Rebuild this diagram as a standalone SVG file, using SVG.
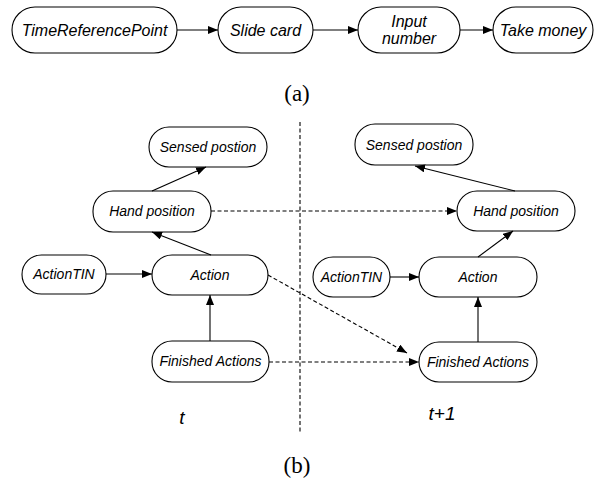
<svg xmlns="http://www.w3.org/2000/svg" width="600" height="479" viewBox="0 0 600 479">
  <style>
    .node { fill: #ffffff; stroke: #000000; stroke-width: 1.1; }
    .lbl { font-family: "Liberation Sans", Arial, sans-serif; font-style: italic; font-size: 14px; text-anchor: middle; fill: #000000; }
    .lbl16 { font-size: 16px; }
    .edge { fill: none; stroke: #000000; stroke-width: 1.1; }
    .dash { stroke-dasharray: 4 2.5; }
    .cap { font-family: "Liberation Serif", "Times New Roman", serif; font-size: 23px; text-anchor: middle; fill: #000000; }
    .time { font-family: "Liberation Sans", Arial, sans-serif; font-style: italic; font-size: 19px; text-anchor: middle; fill: #000000; }
  </style>
  <defs>
    <marker id="arrow" markerWidth="11" markerHeight="9" refX="10" refY="4" orient="auto" markerUnits="userSpaceOnUse">
      <path d="M0,0 L10,4 L0,8 z" fill="#000000"/>
    </marker>
  </defs>
  <rect width="600" height="479" fill="#ffffff"/>

  <!-- (a) sequence of actions -->
  <g id="a-time-reference-point">
    <rect class="node" x="12" y="7" width="165" height="46" rx="23" ry="23"/>
    <text class="lbl lbl16" x="94.5" y="36">TimeReferencePoint</text>
  </g>
  <g id="a-slide-card">
    <rect class="node" x="218" y="7" width="95" height="46" rx="23" ry="23"/>
    <text class="lbl lbl16" x="265.5" y="36">Slide card</text>
  </g>
  <g id="a-input-number">
    <rect class="node" x="358" y="7" width="102" height="46" rx="23" ry="23"/>
    <text class="lbl lbl16" x="409" y="27">Input</text>
    <text class="lbl lbl16" x="409" y="44">number</text>
  </g>
  <g id="a-take-money">
    <rect class="node" x="493" y="7" width="100" height="46" rx="23" ry="23"/>
    <text class="lbl lbl16" x="543" y="36">Take money</text>
  </g>
  <text class="cap" x="297" y="101">(a)</text>

  <!-- (b) two time slices -->
  <g id="b-sensed-t">
    <rect class="node" x="149" y="127" width="118" height="40" rx="20" ry="20"/>
    <text class="lbl" x="208" y="152">Sensed postion</text>
  </g>
  <g id="b-hand-t">
    <rect class="node" x="93" y="191" width="118" height="41" rx="20" ry="20"/>
    <text class="lbl" x="152" y="216">Hand position</text>
  </g>
  <g id="b-actiontin-t">
    <rect class="node" x="22" y="255" width="84" height="39" rx="19.5" ry="19.5"/>
    <text class="lbl" x="64" y="279">ActionTIN</text>
  </g>
  <g id="b-action-t">
    <rect class="node" x="152" y="255" width="116" height="40" rx="20" ry="20"/>
    <text class="lbl" x="210" y="280">Action</text>
  </g>
  <g id="b-finished-t">
    <rect class="node" x="152" y="341" width="117" height="41" rx="20" ry="20"/>
    <text class="lbl" x="210.5" y="366">Finished Actions</text>
  </g>

  <g id="b-sensed-t1">
    <rect class="node" x="355" y="124" width="118" height="41" rx="20" ry="20"/>
    <text class="lbl" x="414" y="149.5">Sensed postion</text>
  </g>
  <g id="b-hand-t1">
    <rect class="node" x="457" y="191" width="118" height="40" rx="20" ry="20"/>
    <text class="lbl" x="516" y="216">Hand position</text>
  </g>
  <g id="b-actiontin-t1">
    <rect class="node" x="313" y="257" width="77" height="40" rx="20" ry="20"/>
    <text class="lbl" x="351.5" y="282">ActionTIN</text>
  </g>
  <g id="b-action-t1">
    <rect class="node" x="419" y="257" width="118" height="40" rx="20" ry="20"/>
    <text class="lbl" x="478" y="282">Action</text>
  </g>
  <g id="b-finished-t1">
    <rect class="node" x="419" y="342" width="118" height="40" rx="20" ry="20"/>
    <text class="lbl" x="478" y="367">Finished Actions</text>
  </g>

  <g id="connectors">
    <!-- (a) -->
    <line class="edge" x1="177" y1="30" x2="218" y2="30" marker-end="url(#arrow)"/>
    <line class="edge" x1="313" y1="30" x2="358" y2="30" marker-end="url(#arrow)"/>
    <line class="edge" x1="460" y1="30" x2="493" y2="30" marker-end="url(#arrow)"/>
    <!-- (b) slice t -->
    <line class="edge" x1="152" y1="191" x2="206" y2="167" marker-end="url(#arrow)"/>
    <line class="edge" x1="211" y1="255" x2="152" y2="232" marker-end="url(#arrow)"/>
    <line class="edge" x1="106" y1="274" x2="152" y2="274" marker-end="url(#arrow)"/>
    <line class="edge" x1="210" y1="341" x2="210" y2="295" marker-end="url(#arrow)"/>
    <!-- (b) slice t+1 -->
    <line class="edge" x1="515" y1="191" x2="415" y2="166" marker-end="url(#arrow)"/>
    <line class="edge" x1="478" y1="257" x2="513" y2="231" marker-end="url(#arrow)"/>
    <line class="edge" x1="390" y1="277" x2="419" y2="277" marker-end="url(#arrow)"/>
    <line class="edge" x1="478" y1="342" x2="478" y2="297" marker-end="url(#arrow)"/>
    <!-- temporal links -->
    <line class="edge dash" x1="211" y1="211" x2="457" y2="211" marker-end="url(#arrow)"/>
    <line class="edge dash" x1="268" y1="275" x2="407" y2="353" marker-end="url(#arrow)"/>
    <line class="edge dash" x1="269" y1="362" x2="419" y2="362" marker-end="url(#arrow)"/>
    <!-- slice separator -->
    <line class="edge dash" x1="300" y1="122" x2="300" y2="433"/>
  </g>

  <text class="time" x="182" y="424">t</text>
  <text class="time" x="442" y="420">t+1</text>
  <text class="cap" x="297" y="473">(b)</text>
</svg>
